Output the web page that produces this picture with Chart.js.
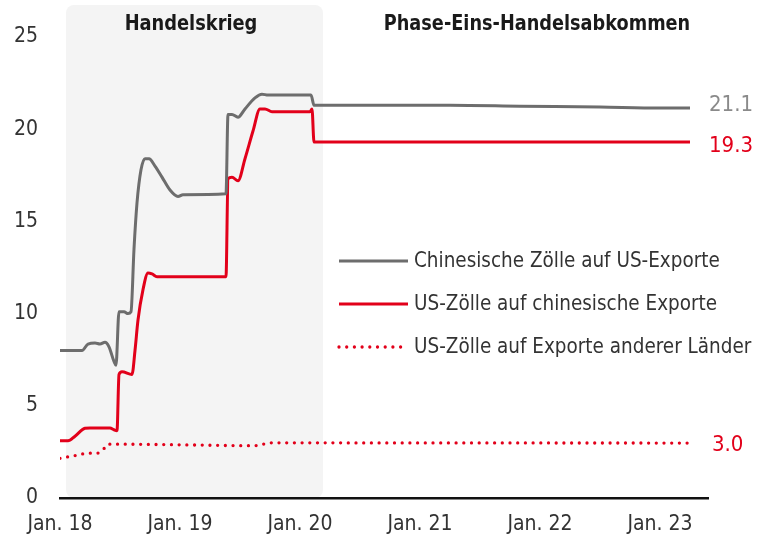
<!DOCTYPE html>
<html lang="de">
<head>
<meta charset="utf-8">
<title>Zölle USA China</title>
<script src="https://cdn.jsdelivr.net/npm/chart.js@4/dist/chart.umd.min.js"></script>
<style>
html,body{margin:0;padding:0;background:#fff;}
canvas{display:block;}
</style>
</head>
<body>
<canvas id="chart" width="766" height="538"></canvas>
<script>
// x values = months since Jan. 2018
const chinaX = [0, 2.2, 2.8, 3.5, 4.0, 4.5, 4.9, 5.4, 5.6, 5.9, 6.4, 6.8, 7.1, 7.4, 7.7, 8.1, 8.5, 8.9, 9.5, 10.2, 11.0, 11.8, 12.3, 16.6, 16.8, 17.2, 17.8, 18.5, 19.5, 20.2, 20.8, 25.1, 25.4, 32, 39, 46, 54, 60, 63];
const chinaY = [8.0, 8.0, 8.35, 8.4, 8.35, 8.45, 8.2, 7.4, 7.2, 10.1, 10.1, 10.0, 10.1, 13.5, 16.0, 17.8, 18.4, 18.4, 18.0, 17.4, 16.7, 16.35, 16.45, 16.5, 20.8, 20.8, 20.65, 21.1, 21.7, 21.9, 21.85, 21.85, 21.3, 21.3, 21.3, 21.25, 21.2, 21.15, 21.15];

const usX = [0, 0.8, 1.5, 2.5, 3.0, 5.0, 5.4, 5.7, 5.9, 6.2, 7.2, 7.5, 7.8, 8.3, 8.8, 9.2, 9.7, 16.6, 16.8, 17.2, 17.8, 18.5, 19.3, 20.0, 20.5, 21.2, 25.0, 25.2, 25.4, 25.8, 63];
const usY = [3.1, 3.1, 3.35, 3.78, 3.8, 3.8, 3.7, 3.65, 6.7, 6.85, 6.7, 8.0, 9.65, 11.3, 12.2, 12.15, 12.0, 12.0, 17.3, 17.4, 17.2, 18.4, 19.9, 21.1, 21.1, 20.95, 20.95, 21.1, 19.3, 19.3, 19.3];

const otherX = [0, 1.5, 2.9, 3.7, 4.4, 4.8, 14, 18, 19.5, 20.3, 21.1, 63];
const otherY = [2.15, 2.3, 2.43, 2.43, 2.68, 2.92, 2.87, 2.84, 2.84, 2.92, 2.99, 2.98];

const seriesNames = ['Chinesische Zölle auf US-Exporte', 'US-Zölle auf chinesische Exporte', 'US-Zölle auf Exporte anderer Länder'];
const endLabels = ['21.1', '19.3', '3.0'];
const tickMonths = [0, 12, 24, 36, 48, 60];
const tickLabels = ['Jan. 18', 'Jan. 19', 'Jan. 20', 'Jan. 21', 'Jan. 22', 'Jan. 23'];
const periodNames = ['Handelskrieg', 'Phase-Eins-Handelsabkommen'];
const warFrom = 0.6, warTo = 26.3;

const FONT = "'DejaVu Sans Condensed', 'Liberation Sans', sans-serif";
const GRAY = '#6d6d6d';
const RED = '#e2001a';
const TEXT = '#333333';

function pts(xs, ys){ return xs.map((x, i) => ({x, y: ys[i]})); }

// text squeezed horizontally, the original uses a narrow face
function squeezed(ctx, text, x, y, sx){
  ctx.save();
  ctx.translate(x, y);
  ctx.scale(sx, 1);
  ctx.fillText(text, 0, 0);
  ctx.restore();
}

const shadePlugin = {
  id: 'shade',
  beforeDraw(chart){
    const {ctx, chartArea, scales} = chart;
    const x0 = scales.x.getPixelForValue(warFrom);
    const x1 = scales.x.getPixelForValue(warTo);
    ctx.save();
    ctx.fillStyle = '#f4f4f4';
    ctx.beginPath();
    ctx.roundRect(x0, 5, x1 - x0, chartArea.bottom - 5, 8);
    ctx.fill();
    ctx.restore();
  }
};

const annotatePlugin = {
  id: 'annotate',
  afterDraw(chart){
    const {ctx, chartArea, scales} = chart;
    ctx.save();
    // period titles
    ctx.font = 'bold 22px ' + FONT;
    ctx.fillStyle = '#1a1a1a';
    ctx.textAlign = 'center';
    ctx.textBaseline = 'middle';
    squeezed(ctx, periodNames[0], scales.x.getPixelForValue(13.1), 24, 0.9);
    squeezed(ctx, periodNames[1], scales.x.getPixelForValue(47.7), 24, 0.895);

    // end value labels
    ctx.font = '22px ' + FONT;
    ctx.textAlign = 'left';
    const cols = ['#8a8a8a', RED, RED];
    const nudge = [-3, 4, 2];
    chart.data.datasets.forEach((ds, i) => {
      const last = ds.data[ds.data.length - 1];
      ctx.fillStyle = cols[i];
      ctx.fillText(endLabels[i], chartArea.right + 1 + (i === 2 ? 3 : 0), scales.y.getPixelForValue(last.y) + nudge[i]);
    });

    // legend
    chart.data.datasets.forEach((ds, i) => {
      const y = 261 + i * 43;
      ctx.strokeStyle = ds.borderColor;
      ctx.lineWidth = ds.borderWidth;
      ctx.lineCap = ds.borderCapStyle || 'butt';
      ctx.setLineDash(ds.borderDash || []);
      ctx.beginPath();
      ctx.moveTo(339, y);
      ctx.lineTo(ds.borderDash ? 404 : 408, y);
      ctx.stroke();
      ctx.setLineDash([]);
      ctx.fillStyle = TEXT;
      squeezed(ctx, ds.label, 414, y, 0.93);
    });
    ctx.restore();
  }
};

new Chart(document.getElementById('chart'), {
  type: 'line',
  data: {
    datasets: [
      {label: seriesNames[0], data: pts(chinaX, chinaY), borderColor: GRAY, borderWidth: 3, cubicInterpolationMode: 'monotone'},
      {label: seriesNames[1], data: pts(usX, usY), borderColor: RED, borderWidth: 3, cubicInterpolationMode: 'monotone'},
      {label: seriesNames[2], data: pts(otherX, otherY), borderColor: RED, borderWidth: 3.3, borderDash: [0, 7.7], borderCapStyle: 'round', cubicInterpolationMode: 'monotone'}
    ]
  },
  options: {
    responsive: false,
    animation: false,
    layout: {padding: {top: 37, right: 58, left: 0, bottom: 0}},
    elements: {point: {radius: 0}},
    plugins: {legend: {display: false}, tooltip: {enabled: false}},
    scales: {
      x: {
        type: 'linear', min: 0, max: 64.8,
        grid: {display: false, drawTicks: false},
        border: {display: true, color: '#111', width: 2.5},
        afterBuildTicks(scale){ scale.ticks = tickMonths.map(v => ({value: v})); },
        afterFit(scale){ scale.height = 40; },
        ticks: {
          autoSkip: false, maxRotation: 0, padding: 14,
          color: TEXT, font: {family: FONT, size: 21},
          callback: v => tickLabels[tickMonths.indexOf(v)]
        }
      },
      y: {
        min: 0, max: 25,
        grid: {display: false, drawTicks: false},
        border: {display: false},
        afterFit(scale){ scale.width = 60; },
        ticks: {stepSize: 5, padding: 22, color: TEXT, font: {family: FONT, size: 21}}
      }
    }
  },
  plugins: [shadePlugin, annotatePlugin]
});
</script>
</body>
</html>
